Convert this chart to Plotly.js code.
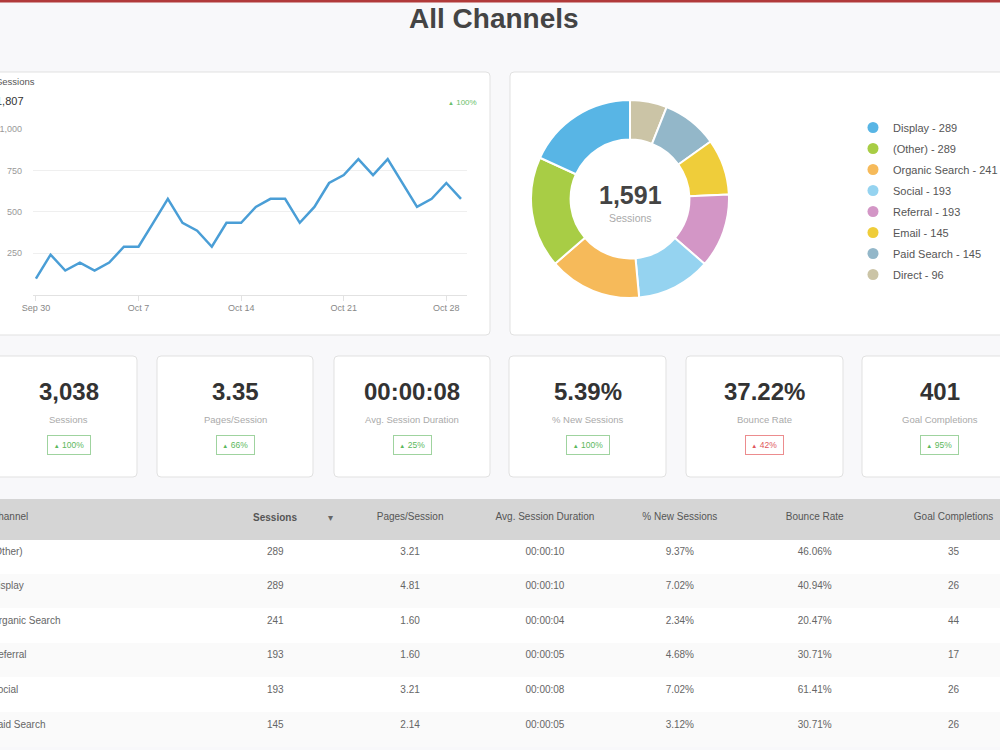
<!DOCTYPE html>
<html>
<head>
<meta charset="utf-8">
<script src="https://cdn.plot.ly/plotly-3.0.1.min.js"></script>
<style>
  html, body { margin: 0; padding: 0; width: 1000px; height: 750px; overflow: hidden; background: #f8f8fa; }
  #chart { position: absolute; left: -25px; top: 0; width: 1050px; height: 750px; }
</style>
</head>
<body>
<div id="chart"></div>
<script>
// ---------- data ----------
const dailyDates = ['2018-09-30','2018-10-01','2018-10-02','2018-10-03','2018-10-04','2018-10-05','2018-10-06',
  '2018-10-07','2018-10-08','2018-10-09','2018-10-10','2018-10-11','2018-10-12','2018-10-13',
  '2018-10-14','2018-10-15','2018-10-16','2018-10-17','2018-10-18','2018-10-19','2018-10-20',
  '2018-10-21','2018-10-22','2018-10-23','2018-10-24','2018-10-25','2018-10-26','2018-10-27',
  '2018-10-28','2018-10-29'];
const dailySessions = [96,241,145,193,145,193,289,289,434,579,434,386,289,434,434,530,579,579,434,530,
  675,723,820,723,820,675,530,579,675,579];
const lineTickDates = ['2018-09-30','2018-10-07','2018-10-14','2018-10-21','2018-10-28'];
const lineYTicks = [250,500,750,1000];
const lineHeaderValue = '1,807';
const lineHeaderChange = '100%';

const channels = ['Display','(Other)','Organic Search','Social','Referral','Email','Paid Search','Direct'];
const channelSessions = [289,289,241,193,193,145,145,96];
const channelColors = ['#58b5e5','#a8cd45','#f6ba5a','#95d3f0','#d396c6','#efcd3a','#93b7c9','#cbc4a6'];

const kpiLabels = ['Sessions','Pages/Session','Avg. Session Duration','% New Sessions','Bounce Rate','Goal Completions'];
const kpiValues = ['3,038','3.35','00:00:08','5.39%','37.22%','401'];
const kpiChanges = ['100%','66%','25%','100%','42%','95%'];
const kpiPositive = [true,true,true,true,false,true];

const tableHeaders = ['Channel','Sessions','Pages/Session','Avg. Session Duration','% New Sessions','Bounce Rate','Goal Completions'];
const tableChannel = ['(Other)','Display','Organic Search','Referral','Social','Paid Search'];
const tableSessions = [289,289,241,193,193,145];
const tablePages = ['3.21','4.81','1.60','1.60','3.21','2.14'];
const tableDuration = ['00:00:10','00:00:10','00:00:04','00:00:05','00:00:08','00:00:05'];
const tableNewPct = ['9.37%','7.02%','2.34%','4.68%','7.02%','3.12%'];
const tableBounce = ['46.06%','40.94%','20.47%','30.71%','61.41%','30.71%'];
const tableGoals = [35,26,44,17,26,26];

// ---------- helpers (page pixels -> paper) ----------
const FW = 1050, FH = 750, OFF = 25;
const X = px => (px + OFF) / FW;
const Y = py => 1 - py / FH;
const FONT = 'Liberation Sans, Arial, sans-serif';

function roundRect(x0, y0, x1, y1, r) {
  const p = (x, y) => X(x) + ',' + Y(y);
  return 'M' + p(x0 + r, y0) + ' L' + p(x1 - r, y0) + ' Q' + p(x1, y0) + ' ' + p(x1, y0 + r) +
    ' L' + p(x1, y1 - r) + ' Q' + p(x1, y1) + ' ' + p(x1 - r, y1) +
    ' L' + p(x0 + r, y1) + ' Q' + p(x0, y1) + ' ' + p(x0, y1 - r) +
    ' L' + p(x0, y0 + r) + ' Q' + p(x0, y0) + ' ' + p(x0 + r, y0) + ' Z';
}
function card(x0, y0, x1, y1) {
  return {type: 'path', xref: 'paper', yref: 'paper', path: roundRect(x0, y0, x1, y1, 4),
    fillcolor: '#ffffff', line: {color: '#e1e1e1', width: 1}, layer: 'below'};
}
function ann(text, x, y, size, color, extra) {
  return Object.assign({text: text, x: X(x), y: Y(y), xref: 'paper', yref: 'paper', showarrow: false,
    xanchor: 'center', yanchor: 'middle', font: {family: FONT, size: size, color: color}}, extra || {});
}

// ---------- traces ----------
const traces = [];
traces.push({
  type: 'scatter', mode: 'lines', x: dailyDates, y: dailySessions,
  line: {color: '#4a9ed6', width: 2.5}, showlegend: false, hoverinfo: 'x+y',
  xaxis: 'x', yaxis: 'y'
});
// donut: drawn clockwise from 12 o'clock in reverse legend order
traces.push({
  type: 'pie', labels: channels.slice().reverse(), values: channelSessions.slice().reverse(),
  sort: false, direction: 'clockwise', rotation: 0, hole: 0.6, textinfo: 'none', showlegend: false,
  marker: {colors: channelColors.slice().reverse(), line: {color: '#ffffff', width: 2}},
  domain: {x: [X(531), X(729)], y: [Y(298), Y(100)]}
});
channels.forEach((c, i) => {
  traces.push({
    type: 'scatter', mode: 'markers', x: [null], y: [null], xaxis: 'x', yaxis: 'y',
    name: c + ' - ' + channelSessions[i], legendgroup: 'g' + i,
    marker: {color: channelColors[i], size: 11, symbol: 'circle'}, hoverinfo: 'skip'
  });
});
const rowFills = tableChannel.map((_, i) => i % 2 === 0 ? '#ffffff' : '#fafafa');
traces.push({
  type: 'table',
  domain: {x: [X(-17), 1], y: [0, Y(504)]},
  columnwidth: [225,135,135,135,135,135,143],
  header: {
    values: tableHeaders.map((h, i) => i === 1 ? '<b>' + h + '</b>' : h),
    align: ['left','center','center','center','center','center','center'],
    fill: {color: '#d5d5d5'}, line: {color: '#d5d5d5', width: 1},
    font: {family: FONT, size: 10, color: '#555'}, height: 35
  },
  cells: {
    values: [tableChannel, tableSessions, tablePages, tableDuration, tableNewPct, tableBounce, tableGoals],
    align: ['left','center','center','center','center','center','center'],
    fill: {color: [rowFills]}, line: {color: 'rgba(0,0,0,0)', width: 1},
    font: {family: FONT, size: 10, color: '#666'}, height: 34.6
  }
});

// ---------- shapes ----------
const shapes = [
  {type: 'rect', xref: 'paper', yref: 'paper', x0: 0, x1: 1, y0: Y(2.5), y1: 1,
    fillcolor: '#b13a3a', line: {width: 0}, layer: 'below'},
  {type: 'rect', xref: 'paper', yref: 'paper', x0: 0, x1: 1, y0: Y(534), y1: Y(499),
    fillcolor: '#d5d5d5', line: {width: 0}, layer: 'below'},
  card(-20, 72, 490, 335),
  card(510, 72, 1020, 335)
];
const kpiX = [[-20,137],[157,313],[334,490],[509,666],[686,843],[862,1019]];
kpiX.forEach(k => shapes.push(card(k[0], 356, k[1], 477)));

// ---------- annotations ----------
const total = channelSessions.reduce((a, b) => a + b, 0);
const annotations = [
  ann('<b>All Channels</b>', 494, 18, 28, '#444'),
  ann('Sessions', -6, 82, 9.5, '#555', {xanchor: 'left'}),
  ann(lineHeaderValue, -6, 101, 11, '#333', {xanchor: 'left'}),
  ann('<span style="font-size:6px">▲</span> ' + lineHeaderChange, 479, 102, 8, '#6cbf6c', {xanchor: 'right'}),
  ann('<b>' + total.toLocaleString('en-US') + '</b>', 630, 195, 25, '#444'),
  ann('Sessions', 630, 218, 10.5, '#aaa'),
  ann('▾', 330, 517, 10, '#666')
];
kpiX.forEach((k, i) => {
  const cx = (k[0] + k[1]) / 2 + (i === 0 ? 10 : 0) + (i === 5 ? -1 : 0);
  const good = kpiPositive[i];
  annotations.push(ann('<b>' + kpiValues[i] + '</b>', cx, 391, 24, '#333'));
  annotations.push(ann(kpiLabels[i], cx, 419, 9.5, '#aaa'));
  annotations.push(ann('<span style="font-size:6px">▲</span> ' + kpiChanges[i], cx, 445, 8.5,
    good ? '#5cb85c' : '#e0575b',
    {bordercolor: good ? '#9fd39f' : '#ec8c8e', borderwidth: 1, borderpad: 3, bgcolor: '#ffffff',
     width: (kpiChanges[i].length + 2) * 5.5 + 3, height: 12}));
});

// ---------- layout ----------
const layout = {
  width: FW, height: FH, margin: {l: 0, r: 0, t: 0, b: 0},
  paper_bgcolor: '#f8f8fa', plot_bgcolor: 'rgba(0,0,0,0)',
  font: {family: FONT, color: '#555'},
  xaxis: {
    type: 'date', domain: [X(33), X(467)],
    range: ['2018-09-29 19:12', '2018-10-29 09:50'],
    tickvals: lineTickDates, tickformat: '%b %-d',
    showgrid: false, zeroline: false, showline: true, linecolor: '#e2e2e2', linewidth: 1,
    ticks: 'outside', ticklen: 5, tickcolor: '#e2e2e2',
    tickfont: {family: FONT, size: 9, color: '#888'}, fixedrange: true
  },
  yaxis: {
    domain: [Y(294.5), Y(129.3)], range: [0, 1000],
    tickvals: lineYTicks, tickformat: ',', showgrid: true, gridcolor: '#efefef',
    zeroline: false, showline: false, ticks: '', ticklabelstandoff: 10,
    tickfont: {family: FONT, size: 9, color: '#999'}, fixedrange: true
  },
  legend: {
    x: X(853), y: Y(113), xanchor: 'left', yanchor: 'top',
    font: {family: FONT, size: 11, color: '#555'}, bgcolor: 'rgba(0,0,0,0)',
    tracegroupgap: 2, itemsizing: 'trace', itemclick: false, itemdoubleclick: false
  },
  shapes: shapes,
  annotations: annotations,
  showlegend: true,
  hovermode: 'closest'
};

Plotly.newPlot('chart', traces, layout, {displayModeBar: false, staticPlot: false});
</script>
</body>
</html>
